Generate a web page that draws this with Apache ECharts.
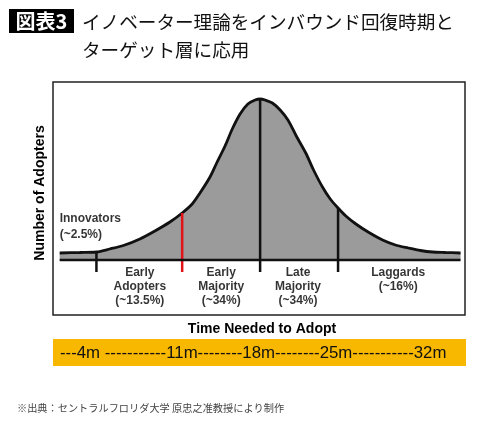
<!DOCTYPE html>
<html lang="ja">
<head>
<meta charset="utf-8">
<title>イノベーター理論</title>
<script src="https://cdn.jsdelivr.net/npm/echarts@6/dist/echarts.min.js"></script>
<style>
    html, body { margin: 0; padding: 0; background: #fff; }
    #chart { width: 500px; height: 435px; }
</style>
</head>
<body>
<div id="chart"></div>
<script>
    "use strict";

    // ---- Data ----
    // x = months since launch, y = number of adopters (relative)
    const months   = [0, 1.8, 3.3, 4.5, 5.85, 7.2, 8.55, 9.9, 11.0, 11.9, 12.6, 13.5, 14.1, 14.85, 15.5, 16.2, 16.9, 17.55, 18.0,
                      18.45, 19.1, 19.8, 20.5, 21.25, 22.1, 22.8, 23.6, 24.3, 25.0, 25.7, 26.6, 27.7, 29.0, 30.15, 31.3, 32.4, 33.5, 34.65, 36.0];
    const adopters = [7, 7.5, 8, 11, 15, 21, 29, 38, 47, 56, 67, 83, 97, 114, 131, 146, 156, 160, 161,
                      160, 157, 150, 140, 124, 107, 90, 73, 61, 52, 44, 36, 28, 20, 15, 12, 9.5, 8, 7.5, 7];

    // divider lines between adopter groups
    const dividerMonths = [3.3, 11, 18, 25];
    const dividerTops   = [8, 47, 161, 52];
    const dividerFloor  = -12;

    // adopter groups (label anchors in data units)
    const groupNames  = ["Early\nAdopters\n(~13.5%)", "Early\nMajority\n(~34%)", "Late\nMajority\n(~34%)", "Laggards\n(~16%)"];
    const groupMonths = [7.2, 14.5, 21.4, 30.4];
    const innovatorsLabel = "Innovators\n(~2.5%)";

    // time scale on the orange bar
    const timeTicks = ["4m", "11m", "18m", "25m", "32m"];
    const timeDashes = [3, 11, 8, 8, 11]; // dashes before each tick label

    // ---- Build ----
    const FONT = '"Liberation Sans", Arial, sans-serif';
    const JP = '"Noto Sans CJK JP", sans-serif';

    const curve = months.map((m, i) => [m, adopters[i]]);
    // only a space after the first tick, as in the picture
    const timelineText = "-".repeat(timeDashes[0]) + timeTicks[0] + " " +
        timeTicks.slice(1).map((t, i) => "-".repeat(timeDashes[i + 1]) + t).join("");

    const dividerSeries = dividerMonths.map((m, i) => ({
        type: "line",
        data: [[m, dividerTops[i]], [m, dividerFloor]],
        symbol: "none",
        silent: true,
        z: 4,
        lineStyle: { color: i === 1 ? "#e3121b" : "#111", width: 2.5 }
    }));

    const chart = echarts.init(document.getElementById("chart"));
    chart.setOption({
        animation: false,
        backgroundColor: "#fff",
        grid: {
            left: 53, top: 82, width: 412, height: 233,
            show: true, borderColor: "#222", borderWidth: 1.5, backgroundColor: "#fff"
        },
        xAxis: {
            type: "value", min: -0.6, max: 36.4,
            axisLine: { show: false }, axisTick: { show: false },
            axisLabel: { show: false }, splitLine: { show: false }
        },
        yAxis: {
            type: "value", min: -55, max: 178,
            axisLine: { show: false }, axisTick: { show: false },
            axisLabel: { show: false }, splitLine: { show: false }
        },
        series: [
            {
                type: "line",
                data: curve,
                smooth: 0.3,
                symbol: "none",
                z: 3,
                lineStyle: { color: "#111", width: 2.8 },
                areaStyle: { color: "#9b9b9b", opacity: 1, origin: 0 }
            },
            {
                type: "line",
                data: [[months[0], 0], [months[months.length - 1], 0]],
                symbol: "none",
                z: 5,
                lineStyle: { color: "#111", width: 2.5 }
            },
            ...dividerSeries,
            {
                type: "scatter",
                symbolSize: 0,
                silent: true,
                data: groupNames.map((n, i) => ({ name: n, value: [groupMonths[i], -6] }))
                    .concat([{ name: innovatorsLabel, value: [0, 49], label: { align: "left", lineHeight: 16 } }]),
                label: {
                    show: true,
                    position: "inside",
                    formatter: p => p.name,
                    align: "center",
                    verticalAlign: "top",
                    color: "#000",
                    fontFamily: FONT,
                    fontWeight: "bold",
                    fontSize: 12,
                    lineHeight: 14
                }
            }
        ],
        graphic: [
            { type: "rect", shape: { x: 9, y: 9, width: 65, height: 24 }, style: { fill: "#000" } },
            { type: "text", x: 41.5, y: 21.5, style: { text: "図表3", fill: "#fff", font: "bold 20px " + JP, align: "center", verticalAlign: "middle", textAlign: "center", textVerticalAlign: "middle" } },
            { type: "text", x: 82, y: 22, style: { text: "イノベーター理論をインバウンド回復時期と", fill: "#111", font: "18.6px " + JP, verticalAlign: "middle", textVerticalAlign: "middle" } },
            { type: "text", x: 82, y: 50, style: { text: "ターゲット層に応用", fill: "#111", font: "18.6px " + JP, verticalAlign: "middle", textVerticalAlign: "middle" } },
            { type: "text", x: 40, y: 193, rotation: Math.PI / 2, style: { text: "Number of Adopters", fill: "#000", font: "bold 14px " + FONT, align: "center", verticalAlign: "middle", textAlign: "center", textVerticalAlign: "middle" } },
            { type: "text", x: 262, y: 329, style: { text: "Time Needed to Adopt", fill: "#000", font: "bold 14px " + FONT, align: "center", verticalAlign: "middle", textAlign: "center", textVerticalAlign: "middle" } },
            { type: "rect", shape: { x: 53, y: 339, width: 413, height: 27 }, style: { fill: "#f9b800" } },
            { type: "text", x: 60, y: 353, style: { text: timelineText, fill: "#111", font: "16.8px " + FONT, verticalAlign: "middle", textVerticalAlign: "middle" } },
            { type: "text", x: 17, y: 408, style: { text: "※出典：セントラルフロリダ大学 原忠之准教授により制作", fill: "#444", font: "10.2px " + JP, verticalAlign: "middle", textVerticalAlign: "middle" } }
        ]
    });
</script>
</body>
</html>
